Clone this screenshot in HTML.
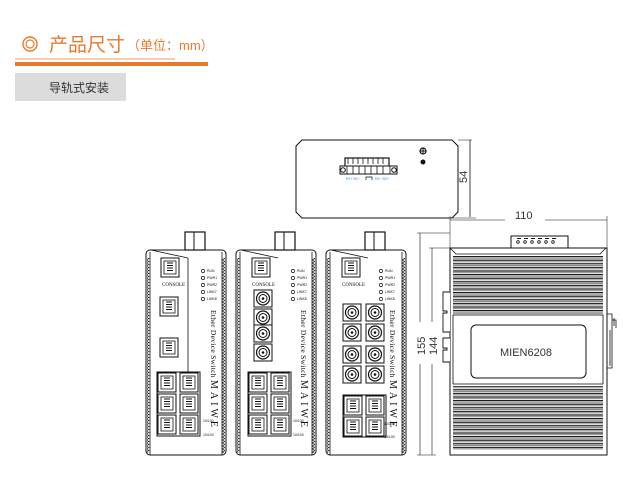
<!DOCTYPE html>
<html><head><meta charset="utf-8"><style>
html,body{margin:0;padding:0;background:#fff;width:623px;height:484px;overflow:hidden}
svg{display:block}
</style></head><body>
<svg width="623" height="484" viewBox="0 0 623 484" xmlns="http://www.w3.org/2000/svg" font-family="Liberation Sans, Noto Sans CJK SC, sans-serif">
<defs>
 <pattern id="serr" width="4" height="3" patternUnits="userSpaceOnUse">
  <path d="M0 0 L3 1.5 L0 3" fill="none" stroke="#222" stroke-width="0.7"/>
 </pattern>
 <pattern id="fins" width="6" height="3.6" patternUnits="userSpaceOnUse">
  <line x1="0" y1="1" x2="6" y2="1" stroke="#111" stroke-width="1.2"/>
  <line x1="0" y1="2.6" x2="6" y2="2.6" stroke="#444" stroke-width="0.6"/>
 </pattern>
 <g id="frame">
  <rect x="0" y="2" width="80" height="205" rx="4" fill="#fff" stroke="#111" stroke-width="1"/>
  <rect x="1" y="10" width="3" height="195" fill="url(#serr)"/>
  <rect x="76" y="10" width="3" height="195" fill="url(#serr)"/>
  <line x1="4" y1="4" x2="4" y2="207" stroke="#111" stroke-width="0.8"/>
  <line x1="76" y1="4" x2="76" y2="207" stroke="#111" stroke-width="0.8"/>
  <rect x="39" y="-16" width="20" height="18" fill="#fff" stroke="#111" stroke-width="1.2"/>
  <line x1="48" y1="-16" x2="48" y2="2" stroke="#111" stroke-width="1"/>
  <line x1="5" y1="2" x2="42" y2="10" stroke="#111" stroke-width="0.8"/>
 </g>
 <g id="rj">
  <rect x="0" y="0" width="18" height="19" fill="#fff" stroke="#111" stroke-width="1"/>
  <rect x="3" y="3" width="12" height="13" fill="none" stroke="#111" stroke-width="0.8"/>
  <path d="M6 5h6M6 7.5h6M6 10h6M6 12.5h6" stroke="#111" stroke-width="1"/>
 </g>
 <g id="fib">
  <rect x="0" y="0" width="18" height="17" fill="#fff" stroke="#111" stroke-width="1"/>
  <circle cx="9" cy="8.5" r="6.5" fill="none" stroke="#111" stroke-width="1.2"/>
  <circle cx="9" cy="8.5" r="4" fill="none" stroke="#111" stroke-width="1"/>
  <circle cx="9" cy="8.5" r="1.3" fill="#111"/>
 </g>
 <g id="leds" font-size="3.5" fill="#111">
  <circle cx="0" cy="0" r="1.6" fill="none" stroke="#111" stroke-width="0.7"/><text x="4" y="1.2">RUN</text>
  <circle cx="0" cy="7" r="1.6" fill="none" stroke="#111" stroke-width="0.7"/><text x="4" y="8.2">PWR1</text>
  <circle cx="0" cy="14" r="1.6" fill="none" stroke="#111" stroke-width="0.7"/><text x="4" y="15.2">PWR2</text>
  <circle cx="0" cy="21" r="1.6" fill="none" stroke="#111" stroke-width="0.7"/><text x="4" y="22.2">LINK7</text>
  <circle cx="0" cy="28" r="1.6" fill="none" stroke="#111" stroke-width="0.7"/><text x="4" y="29.2">LINK8</text>
 </g>
 <g id="side" font-family="Liberation Serif, serif" fill="#111">
  <text transform="translate(0,0) rotate(90)" font-size="7.5" letter-spacing="0.3">Ether Device Switch</text>
  <text transform="translate(0,70) rotate(90)" font-size="10" letter-spacing="3">MAIWE</text>
 </g>
</defs>

<!-- header -->
<circle cx="30" cy="44" r="7" fill="none" stroke="#e87a2c" stroke-width="1.4"/>
<circle cx="30" cy="44" r="4" fill="none" stroke="#e87a2c" stroke-width="1.2"/>
<text x="49" y="51" font-size="19" fill="#e87a2c">产品尺寸</text>
<text x="127" y="50" font-size="13" fill="#e87a2c">（单位：mm）</text>
<line x1="15" y1="59" x2="175" y2="59" stroke="#e87a2c" stroke-width="0.8"/>
<rect x="15" y="62" width="193" height="4" fill="#e87a2c"/>
<rect x="15" y="73" width="111" height="28" fill="#dcdcdd"/>
<text x="49" y="92" font-size="12" fill="#333">导轨式安装</text>

<!-- top view -->
<path d="M302 140 H452 L458 146 V212 L452 218 H302 L296 212 V146 Z" fill="#fff" stroke="#111" stroke-width="1"/>
<rect x="345" y="158" width="44" height="9" fill="none" stroke="#111" stroke-width="1.2"/>
<path d="M348 158v6M353 158v6M358 158v6M363 158v6M368 158v6M373 158v6M378 158v6M383 158v6" stroke="#111" stroke-width="0.8"/>
<rect x="340" y="166" width="57" height="8" fill="#fff" stroke="#111" stroke-width="1"/>
<path d="M347 166v8M353 166v8M359 166v8M365 166v8M371 166v8M377 166v8M383 166v8M390 166v8" stroke="#111" stroke-width="0.8"/>
<circle cx="343" cy="170" r="2.3" fill="none" stroke="#111"/><circle cx="394" cy="170" r="2.3" fill="none" stroke="#111"/>
<text x="346" y="180" font-size="3.5" fill="#2a7fd4">R1+ R1−</text>
<path d="M366 180v-3h6v3" fill="none" stroke="#111" stroke-width="0.7"/>
<text x="375" y="180" font-size="3.5" fill="#2a7fd4">R2− R2+</text>
<circle cx="423" cy="151" r="3" fill="none" stroke="#111" stroke-width="1.2"/><path d="M420 151h6M423 148v6" stroke="#111"/>
<circle cx="423" cy="162" r="2.5" fill="#111"/>
<line x1="470" y1="140" x2="470" y2="217" stroke="#111" stroke-width="0.8"/>
<line x1="458" y1="140" x2="472" y2="140" stroke="#111" stroke-width="0.5"/>
<line x1="450" y1="218" x2="476" y2="218" stroke="#111" stroke-width="0.5"/>
<text transform="translate(467,183) rotate(-90)" font-size="11" fill="#333">54</text>

<!-- front device 1 -->
<use href="#frame" x="146" y="248"/>
<text x="162" y="286" font-family="Liberation Serif, serif" font-size="5" fill="#111">CONSOLE</text>
<use href="#rj" x="161" y="258"/>
<use href="#leds" x="203" y="271"/>
<line x1="188" y1="258" x2="188" y2="372" stroke="#111" stroke-width="0.8"/>
<use href="#rj" x="160" y="297"/>
<use href="#rj" x="160" y="338"/>
<rect x="157" y="372" width="43" height="64" fill="#fff" stroke="#111" stroke-width="1"/>
<use href="#rj" x="158" y="373"/><use href="#rj" x="180" y="373"/>
<use href="#rj" x="158" y="394"/><use href="#rj" x="180" y="394"/>
<use href="#rj" x="158" y="415"/><use href="#rj" x="180" y="415"/>
<use href="#side" x="211" y="310"/>
<text x="203" y="422" font-size="3.5" fill="#111">10/100</text><text x="203" y="436" font-size="3.5" fill="#111">10/100</text>

<!-- front device 2 -->
<use href="#frame" x="236" y="248"/>
<text x="252" y="286" font-family="Liberation Serif, serif" font-size="5" fill="#111">CONSOLE</text>
<use href="#rj" x="252" y="258"/>
<use href="#leds" x="293" y="271"/>
<use href="#fib" x="254" y="290"/><use href="#fib" x="254" y="309"/>
<use href="#fib" x="254" y="325"/><use href="#fib" x="254" y="344"/>
<rect x="248" y="372" width="43" height="64" fill="#fff" stroke="#111" stroke-width="1"/>
<use href="#rj" x="249" y="373"/><use href="#rj" x="271" y="373"/>
<use href="#rj" x="249" y="394"/><use href="#rj" x="271" y="394"/>
<use href="#rj" x="249" y="415"/><use href="#rj" x="271" y="415"/>
<use href="#side" x="301" y="310"/>
<text x="293" y="422" font-size="3.5" fill="#111">10/100</text><text x="293" y="436" font-size="3.5" fill="#111">10/100</text>

<!-- front device 3 -->
<use href="#frame" x="326" y="248"/>
<text x="342" y="286" font-family="Liberation Serif, serif" font-size="5" fill="#111">CONSOLE</text>
<use href="#rj" x="342" y="258"/>
<use href="#leds" x="381" y="271"/>
<use href="#fib" x="343" y="304"/><use href="#fib" x="366" y="304"/>
<use href="#fib" x="343" y="324"/><use href="#fib" x="366" y="324"/>
<use href="#fib" x="343" y="346"/><use href="#fib" x="366" y="346"/>
<use href="#fib" x="343" y="366"/><use href="#fib" x="366" y="366"/>
<rect x="343" y="395" width="43" height="42" fill="#fff" stroke="#111" stroke-width="1"/>
<use href="#rj" x="344" y="396"/><use href="#rj" x="366" y="396"/>
<use href="#rj" x="344" y="417"/><use href="#rj" x="366" y="417"/>
<use href="#side" x="390" y="310"/>
<text x="384" y="425" font-size="3.5" fill="#111">10/100</text><text x="384" y="438" font-size="3.5" fill="#111">10/100</text>

<!-- side view -->
<line x1="450" y1="220" x2="607" y2="220" stroke="#111" stroke-width="0.6"/>
<rect x="505" y="209" width="40" height="14" fill="#fff"/>
<text x="515" y="219" font-size="11" fill="#333">110</text>
<line x1="450" y1="216" x2="450" y2="248" stroke="#111" stroke-width="0.5"/>
<line x1="607" y1="216" x2="607" y2="248" stroke="#111" stroke-width="0.5"/>
<rect x="511" y="236" width="57" height="12" fill="#fff" stroke="#111" stroke-width="1"/>
<path d="M517 238.5h4M524 238.5h4M531 238.5h4M538 238.5h4M545 238.5h4M552 238.5h4" stroke="#111" stroke-width="1"/>
<g fill="none" stroke="#111" stroke-width="0.8"><circle cx="518" cy="242" r="1.3"/><circle cx="525" cy="242" r="1.3"/><circle cx="532" cy="242" r="1.3"/><circle cx="539" cy="242" r="1.3"/><circle cx="546" cy="242" r="1.3"/><circle cx="553" cy="242" r="1.3"/></g>
<rect x="450" y="248" width="157" height="207" fill="#fff" stroke="#111" stroke-width="1"/>
<path d="M450 248 L456 254 H600 L606 248" fill="none" stroke="#111" stroke-width="0.8"/>
<rect x="453" y="256" width="150" height="58" fill="url(#fins)"/>
<rect x="453" y="386" width="150" height="64" fill="url(#fins)"/>
<rect x="453" y="315" width="150" height="69" fill="#fff" stroke="#111" stroke-width="0.8"/>
<rect x="471" y="325" width="115" height="53" rx="5" fill="#fff" stroke="#111" stroke-width="1"/>
<text x="500" y="356" font-size="11" fill="#333">MIEN6208</text>
<!-- din clips -->
<path d="M450 292 H443 V311 H447 V313 H443 V332 H450" fill="#fff" stroke="#111" stroke-width="0.9"/>
<path d="M450 338 H443 V348 H447 V350 H443 V362 H450" fill="#fff" stroke="#111" stroke-width="0.9"/>
<path d="M607 314 H612 V368 H607 M612 320 H616 V328 M614 318 V326 M610 330 V366" fill="none" stroke="#111" stroke-width="0.8"/>
<!-- height dims -->
<line x1="420" y1="233" x2="420" y2="455" stroke="#111" stroke-width="0.6"/>
<line x1="432" y1="248" x2="432" y2="455" stroke="#111" stroke-width="0.6"/>
<line x1="417" y1="233" x2="450" y2="233" stroke="#111" stroke-width="0.5"/>
<line x1="429" y1="248" x2="450" y2="248" stroke="#111" stroke-width="0.5"/>
<line x1="417" y1="455" x2="436" y2="455" stroke="#111" stroke-width="0.5"/>
<rect x="413" y="322" width="24" height="42" fill="#fff"/>
<text transform="translate(425,355) rotate(-90)" font-size="11" fill="#333">155</text>
<text transform="translate(437,355) rotate(-90)" font-size="11" fill="#333">144</text>
</svg>
</body></html>
